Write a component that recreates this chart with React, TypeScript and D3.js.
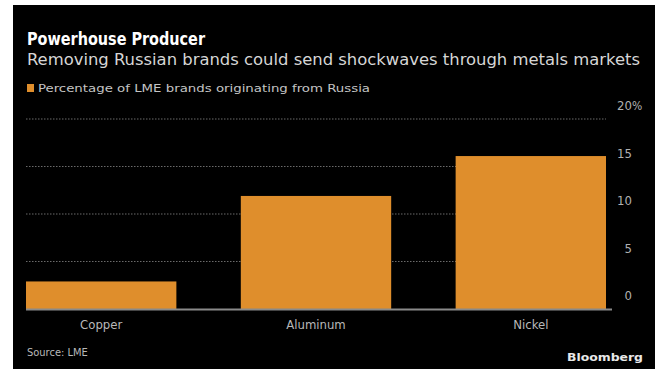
import React from "react";
import * as d3 from "d3";

const categories = ["Copper", "Aluminum", "Nickel"];
const values = [2.9, 11.9, 16.1];
const tickValues = [0, 5, 10, 15, 20];
const tickLabels = ["0", "5", "10", "15", "20"];

const W = 655;
const H = 369;
const FONT = "'DejaVu Sans Condensed', 'DejaVu Sans', sans-serif";

export default function App() {
  const x = d3.scaleBand<string>().domain(categories).range([26, 606]).paddingInner(0.3).paddingOuter(0);
  const y = d3.scaleLinear().domain([0, 20]).range([309, 119]);
  const orange = "#DF8E2C";

  return (
    <svg width={W} height={H} style={{ position: "absolute", left: 0, top: 0 }} fontFamily={FONT}>
      <rect x={0} y={0} width={W} height={H} fill="#ffffff" />
      <rect x={13} y={5} width={W - 13} height={H - 5} fill="#000000" />
      <text x={27} y={45} fill="#ffffff" fontSize={17} fontWeight="bold" textLength={178} lengthAdjust="spacingAndGlyphs">
        Powerhouse Producer
      </text>
      <text x={27} y={65} fill="#d6d6d6" fontSize={16} textLength={613} lengthAdjust="spacingAndGlyphs">
        Removing Russian brands could send shockwaves through metals markets
      </text>
      <rect x={27} y={84} width={7} height={8} fill={orange} />
      <text x={38} y={92} fill="#c4c4c4" fontSize={11} textLength={332} lengthAdjust="spacingAndGlyphs">
        Percentage of LME brands originating from Russia
      </text>
      {tickValues.map((t) =>
        t === 0 ? null : (
          <line key={"g" + t} x1={26} x2={606} y1={y(t)} y2={y(t)} stroke="#6a6a6a" strokeWidth={1} strokeDasharray="1.5,1.5" />
        )
      )}
      {categories.map((c, i) => (
        <rect key={c} x={x(c)} y={y(values[i])} width={x.bandwidth()} height={y(0) - y(values[i])} fill={orange} />
      ))}
      <line x1={26} x2={612} y1={y(0) + 0.5} y2={y(0) + 0.5} stroke="#8a8a8a" strokeWidth={2} />
      {tickValues.map((t, i) => (
        <text key={"t" + t} x={632} y={y(t) - 9} fill="#b0b0b0" fontSize={13} textAnchor="end">
          {tickLabels[i]}
        </text>
      ))}
      <text x={632} y={y(20) - 9} fill="#b0b0b0" fontSize={12}>
        %
      </text>
      {categories.map((c) => (
        <text key={"l" + c} x={(x(c) as number) + x.bandwidth() / 2} y={329} fill="#b8b8b8" fontSize={13} textAnchor="middle">
          {c}
        </text>
      ))}
      <text x={27} y={356} fill="#b8b8b8" fontSize={11}>
        Source: LME
      </text>
      <text x={643} y={361} fill="#e8e8e8" fontSize={11} fontWeight="bold" textAnchor="end" textLength={76} lengthAdjust="spacingAndGlyphs">
        Bloomberg
      </text>
    </svg>
  );
}
